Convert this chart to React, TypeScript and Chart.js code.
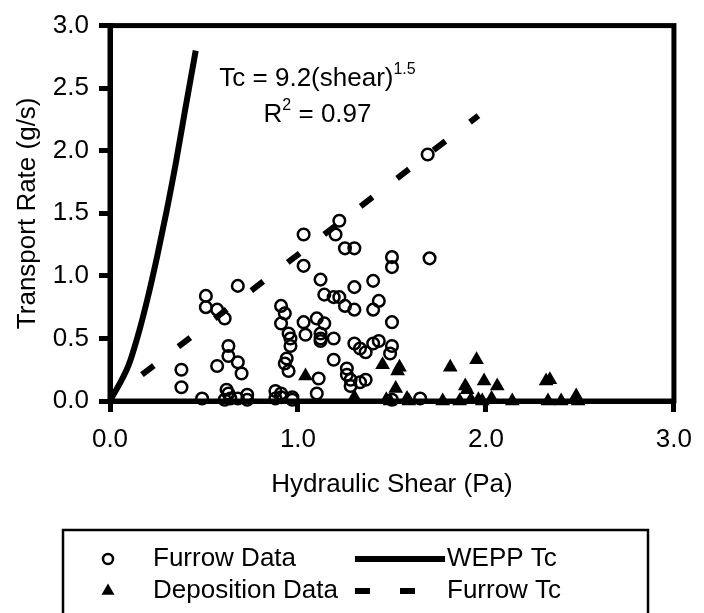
import React, { useEffect, useRef } from 'react';
import { Chart, registerables } from 'chart.js';

Chart.register(...registerables);

const FONT = '"Liberation Sans", Arial, Helvetica, sans-serif';

// ---- data ----
const furrowX = [
  0.38, 0.38, 0.51, 0.51, 0.57, 0.61, 0.68, 0.63, 0.63, 0.68, 0.70, 0.57, 0.49, 0.62, 0.63, 0.64, 0.61, 0.68, 0.73, 0.73,
  0.88, 0.88, 0.91, 0.91, 0.97, 0.97, 0.91, 0.93, 0.91, 0.95, 0.96, 0.96, 0.94, 0.93, 0.95, 1.03, 1.04, 1.03, 1.03, 1.22,
  1.20, 1.25, 1.30, 1.50, 1.50, 1.70, 1.69, 1.12, 1.14, 1.19, 1.22, 1.25, 1.30, 1.30, 1.40, 1.43, 1.40, 1.10, 1.14, 1.50,
  1.12, 1.12, 1.12, 1.19, 1.30, 1.33, 1.36, 1.40, 1.43, 1.50, 1.49, 1.19, 1.26, 1.26, 1.28, 1.33, 1.36, 1.11, 1.10, 1.28,
  1.65, 1.50,
];
const furrowY = [
  0.25, 0.11, 0.84, 0.75, 0.73, 0.66, 0.92, 0.44, 0.36, 0.31, 0.22, 0.28, 0.02, 0.09, 0.06, 0.02, 0.01, 0.02, 0.05, 0.01,
  0.08, 0.02, 0.03, 0.06, 0.03, 0.01, 0.76, 0.70, 0.62, 0.54, 0.50, 0.44, 0.34, 0.30, 0.24, 0.63, 0.53, 1.33, 1.08, 1.44,
  1.33, 1.22, 1.22, 1.15, 1.07, 1.14, 1.97, 0.97, 0.85, 0.83, 0.83, 0.76, 0.73, 0.91, 0.96, 0.80, 0.73, 0.66, 0.62, 0.63,
  0.54, 0.50, 0.48, 0.50, 0.46, 0.42, 0.39, 0.46, 0.48, 0.44, 0.38, 0.33, 0.26, 0.21, 0.17, 0.15, 0.17, 0.18, 0.06, 0.12,
  0.02, 0.01,
];

const depositionX = [
  1.04, 1.30, 1.45, 1.54, 1.53, 1.52, 1.47, 1.49, 1.58, 1.59, 1.81, 1.95, 1.89, 1.90, 1.99, 2.06, 1.77, 1.86, 1.92, 1.96,
  1.98, 2.03, 2.14, 2.32, 2.34, 2.33, 2.40, 2.48, 2.49,
];
const depositionY = [
  0.20, 0.03, 0.29, 0.27, 0.24, 0.10, 0.01, 0.0, 0.02, 0.0, 0.27, 0.33, 0.12, 0.09, 0.16, 0.12, 0.0, 0.0, 0.01, 0.01,
  0.0, 0.02, 0.0, 0.16, 0.17, 0.0, 0.0, 0.04, 0.0,
];

const weppX = [0, 0.1, 0.15, 0.2, 0.25, 0.3, 0.35, 0.4, 0.456];
const weppY = [0, 0.29, 0.53, 0.82, 1.15, 1.51, 1.9, 2.33, 2.8];

const furrowTcX = [0.17, 1.96];
const furrowTcY = [0.21, 2.28];

const xTickValues = [0, 1, 2, 3];
const yTickValues = [0, 0.5, 1, 1.5, 2, 2.5, 3];

const seriesLabels = ['Furrow Data', 'Deposition Data', 'WEPP Tc', 'Furrow Tc'];
const xTitle = 'Hydraulic Shear (Pa)';
const yTitle = 'Transport Rate (g/s)';

const equationLines = [
  [{ t: 'Tc = 9.2(shear)' }, { t: '1.5', sup: true }],
  [{ t: 'R' }, { t: '2', sup: true }, { t: ' = 0.97' }],
];
const equationAnchor = { x: 1.104, y: [2.518, 2.226] };

const pts = (xs: number[], ys: number[]) => xs.map((x, i) => ({ x, y: ys[i] }));

const overlayPlugin = {
  id: 'overlay',
  beforeDatasetsDraw(chart: any) {
    const { ctx, chartArea: a } = chart;
    ctx.save();
    ctx.strokeStyle = '#000';
    ctx.lineWidth = 5;
    ctx.lineJoin = 'miter';
    ctx.strokeRect(a.left, a.top, a.right - a.left, a.bottom - a.top);
    ctx.restore();
  },
  afterDraw(chart: any) {
    const { ctx } = chart;
    const xs = chart.scales.x;
    const ys = chart.scales.y;
    ctx.save();
    ctx.fillStyle = '#000';
    ctx.textBaseline = 'alphabetic';
    ctx.textAlign = 'left';
    // equation annotation
    equationLines.forEach((parts, li) => {
      let total = 0;
      const widths = parts.map((p: any) => {
        ctx.font = p.sup ? `16px ${FONT}` : `26px ${FONT}`;
        const w = ctx.measureText(p.t).width;
        total += w;
        return w;
      });
      let cx = xs.getPixelForValue(equationAnchor.x) - total / 2;
      const by = ys.getPixelForValue(equationAnchor.y[li]);
      parts.forEach((p: any, i: number) => {
        ctx.font = p.sup ? `16px ${FONT}` : `26px ${FONT}`;
        ctx.fillText(p.t, cx, p.sup ? by - 12 : by);
        cx += widths[i];
      });
    });

    // legend box
    const ds = chart.data.datasets;
    ctx.lineWidth = 2.5;
    ctx.strokeStyle = '#000';
    ctx.strokeRect(63, 530, 585, 130);
    const rows = [559, 591];
    ctx.font = `26px ${FONT}`;
    ctx.textBaseline = 'middle';
    // column 1 markers
    // circle
    ctx.beginPath();
    ctx.lineWidth = 2.5;
    ctx.arc(108, rows[0], 5, 0, Math.PI * 2);
    ctx.stroke();
    ctx.fillText(ds[0].label, 153, rows[0]);
    // triangle
    const r = 7.5;
    ctx.beginPath();
    for (let k = 0; k < 3; k++) {
      const ang = (k * 2 * Math.PI) / 3;
      const px = 108 + Math.sin(ang) * r;
      const py = rows[1] - Math.cos(ang) * r;
      if (k === 0) ctx.moveTo(px, py);
      else ctx.lineTo(px, py);
    }
    ctx.closePath();
    ctx.fill();
    ctx.fillText(ds[1].label, 153, rows[1]);
    // column 2 lines
    ctx.lineCap = 'butt';
    ctx.lineWidth = 6;
    ctx.setLineDash([]);
    ctx.beginPath();
    ctx.moveTo(355, rows[0]);
    ctx.lineTo(445, rows[0]);
    ctx.stroke();
    ctx.fillText(ds[2].label, 447, rows[0]);
    ctx.setLineDash([15, 30]);
    ctx.beginPath();
    ctx.moveTo(355, rows[1]);
    ctx.lineTo(445, rows[1]);
    ctx.stroke();
    ctx.setLineDash([]);
    ctx.fillText(ds[3].label, 447, rows[1]);
    ctx.restore();
  },
};

export default function App() {
  const ref = useRef<HTMLCanvasElement | null>(null);
  useEffect(() => {
    document.body.style.margin = '0';
    if (!ref.current) return;
    Chart.defaults.font.family = FONT;
    Chart.defaults.color = '#000';
    const chart = new Chart(ref.current, {
      type: 'scatter',
      data: {
        datasets: [
          {
            label: seriesLabels[0],
            data: pts(furrowX, furrowY),
            pointStyle: 'circle',
            pointRadius: 5.8,
            pointBorderWidth: 2.5,
            borderColor: '#000',
            backgroundColor: 'rgba(0,0,0,0)',
            clip: false,
          } as any,
          {
            label: seriesLabels[1],
            data: pts(depositionX, depositionY),
            pointStyle: 'triangle',
            pointRadius: 8.5,
            pointBorderWidth: 0,
            borderColor: '#000',
            backgroundColor: '#000',
            clip: false,
          } as any,
          {
            label: seriesLabels[2],
            data: pts(weppX, weppY),
            showLine: true,
            pointRadius: 0,
            borderColor: '#000',
            borderWidth: 6,
            cubicInterpolationMode: 'monotone',
            borderCapStyle: 'butt',
            clip: false,
          } as any,
          {
            label: seriesLabels[3],
            data: pts(furrowTcX, furrowTcY),
            showLine: true,
            pointRadius: 0,
            borderColor: '#000',
            borderWidth: 6,
            borderDash: [15, 31],
            borderCapStyle: 'butt',
            clip: false,
          } as any,
        ],
      },
      options: {
        animation: false,
        responsive: false,
        devicePixelRatio: 1,
        layout: { padding: { top: 21, right: 22, bottom: 111, left: 0 } },
        plugins: { legend: { display: false }, tooltip: { enabled: false } },
        scales: {
          x: {
            type: 'linear',
            min: 0,
            max: 3,
            afterBuildTicks: (s: any) => {
              s.ticks = xTickValues.map((v) => ({ value: v }));
            },
            afterFit: (s: any) => {
              s.height = 101;
            },
            ticks: {
              callback: (v: any) => Number(v).toFixed(1),
              padding: 12,
              color: '#000',
              font: { size: 26 },
              maxRotation: 0,
            },
            grid: { drawOnChartArea: false, tickLength: 11, tickWidth: 5, lineWidth: 5, color: '#000' },
            border: { display: true, width: 5, color: '#000' },
            title: { display: true, text: xTitle, font: { size: 26 }, color: '#000', padding: { top: 0, bottom: 2 } },
          },
          y: {
            type: 'linear',
            min: 0,
            max: 3,
            afterBuildTicks: (s: any) => {
              s.ticks = yTickValues.map((v) => ({ value: v }));
            },
            afterFit: (s: any) => {
              s.width = 110;
            },
            ticks: {
              callback: (v: any) => Number(v).toFixed(1),
              padding: 10,
              color: '#000',
              font: { size: 26 },
            },
            grid: { drawOnChartArea: false, tickLength: 11, tickWidth: 5, lineWidth: 5, color: '#000' },
            border: { display: true, width: 5, color: '#000' },
            title: { display: true, text: yTitle, font: { size: 26 }, color: '#000', padding: { top: 12, bottom: 0 } },
          },
        },
      } as any,
      plugins: [overlayPlugin],
    });
    return () => chart.destroy();
  }, []);
  return (
    <div style={{ position: 'absolute', left: 0, top: 0, width: 704, height: 613, background: '#fff' }}>
      <canvas ref={ref} width={704} height={613} style={{ display: 'block', width: 704, height: 613 }} />
    </div>
  );
}
